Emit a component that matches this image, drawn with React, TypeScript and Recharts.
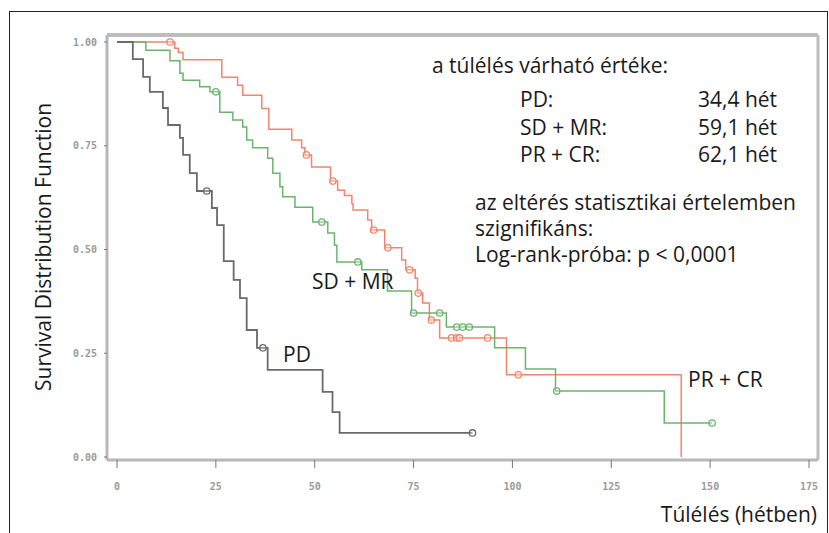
import React from 'react';
import { LineChart, Line, XAxis, YAxis, ReferenceLine } from 'recharts';

// ---- data (weeks, survival, censored flag) ----
const PD_T = [0, 4.0, 6.6, 8.3, 11.6, 12.9, 15.9, 16.7, 18.4, 20.2, 22.7, 24.0, 25.3, 27.0, 29.5, 31.1, 32.8, 35.4, 36.9, 38.1, 52.0, 54.5, 56.3, 89.9];
const PD_S = [1, 0.959, 0.916, 0.88, 0.841, 0.8, 0.769, 0.728, 0.684, 0.641, 0.641, 0.6, 0.559, 0.472, 0.427, 0.383, 0.306, 0.263, 0.263, 0.21, 0.157, 0.108, 0.058, 0.058];
const PD_C = [0, 0, 0, 0, 0, 0, 0, 0, 0, 0, 1, 0, 0, 0, 0, 0, 0, 0, 1, 0, 0, 0, 0, 1];

const SD_T = [0, 7.3, 13.4, 15.9, 16.7, 20.9, 23.5, 25.0, 26.0, 29.3, 31.8, 32.8, 34.3, 38.1, 39.4, 41.2, 41.9, 45.0, 49.5, 51.8, 53.3, 55.0, 55.6, 60.9, 61.9, 68.4, 74.5, 75.0, 81.6, 83.3, 85.9, 87.4, 89.1, 95.5, 103.3, 110.9, 111.2, 138.4, 150.5];
const SD_S = [1, 0.98, 0.955, 0.925, 0.908, 0.892, 0.88, 0.88, 0.831, 0.812, 0.795, 0.764, 0.745, 0.72, 0.684, 0.651, 0.627, 0.602, 0.566, 0.566, 0.54, 0.51, 0.47, 0.47, 0.451, 0.4, 0.347, 0.347, 0.347, 0.313, 0.313, 0.313, 0.313, 0.263, 0.212, 0.159, 0.159, 0.082, 0.082];
const SD_C = [0, 0, 0, 0, 0, 0, 0, 1, 0, 0, 0, 0, 0, 0, 0, 0, 0, 0, 0, 1, 0, 0, 0, 1, 0, 0, 0, 1, 1, 0, 1, 1, 1, 0, 0, 0, 1, 0, 1];

const PR_T = [0, 13.4, 14.6, 15.5, 16.7, 26.5, 30.5, 31.8, 36.6, 38.4, 44.2, 46.7, 47.5, 47.9, 49.2, 54.0, 54.6, 55.8, 57.5, 59.4, 59.7, 63.4, 64.4, 64.9, 67.7, 68.5, 72.0, 73.0, 74.0, 75.4, 76.0, 76.2, 77.3, 79.0, 79.5, 81.6, 84.6, 85.9, 86.6, 93.7, 98.5, 101.5, 142.7];
const PR_S = [1, 1, 0.985, 0.975, 0.957, 0.915, 0.896, 0.872, 0.84, 0.79, 0.764, 0.745, 0.728, 0.728, 0.699, 0.665, 0.665, 0.643, 0.63, 0.61, 0.595, 0.571, 0.547, 0.547, 0.504, 0.504, 0.475, 0.451, 0.451, 0.431, 0.395, 0.395, 0.371, 0.33, 0.33, 0.287, 0.287, 0.287, 0.287, 0.287, 0.198, 0.198, 0];
const PR_C = [0, 1, 0, 0, 0, 0, 0, 0, 0, 0, 0, 0, 0, 1, 0, 0, 1, 0, 0, 0, 0, 0, 0, 1, 0, 1, 0, 0, 1, 0, 0, 1, 0, 0, 1, 0, 1, 1, 1, 1, 0, 1, 0];

const X_TICKS = [0, 25, 50, 75, 100, 125, 150, 175];
const Y_TICKS = [0, 0.25, 0.5, 0.75, 1];
const X_DOMAIN: [number, number] = [-2.53, 177.28];
const Y_DOMAIN: [number, number] = [-0.0072, 1.0169];

const SUMMARY_TITLE = 'a túlélés várható értéke:';
const SUMMARY_ROWS = [
  ['PD:', '34,4 hét'],
  ['SD + MR:', '59,1 hét'],
  ['PR + CR:', '62,1 hét'],
];
const SIG_LINES = ['az eltérés statisztikai értelemben', 'szignifikáns:', 'Log-rank-próba: p < 0,0001'];

const build = (t: number[], s: number[], c: number[]) => t.map((v, i) => ({ t: v, s: s[i], c: c[i] }));
const pdData = build(PD_T, PD_S, PD_C);
const sdData = build(SD_T, SD_S, SD_C);
const prData = build(PR_T, PR_S, PR_C);

const COL_PD = '#6a6a6a';
const COL_SD = '#6cb46c';
const COL_PR = '#f0866c';

const censorDot = (color: string) => (props: any) => {
  const { cx, cy, payload, index } = props;
  if (!payload || !payload.c) return <g key={`n-${index}`} />;
  return <circle key={`c-${index}`} cx={cx} cy={cy} r={3.2} fill="rgba(255,255,255,0.3)" stroke={color} strokeWidth={1.3} />;
};

const FONT = '"Open Sans", "Noto Sans", sans-serif';
const TICK_STYLE = { fontSize: 10, fill: '#9a9a9a', fontFamily: '"DejaVu Sans Mono", monospace', fontWeight: 700 };

export default function App() {
  return (
    <div style={{ position: 'absolute', left: 0, top: 0, width: 829, height: 533, overflow: 'hidden', background: '#fff' }}>
      <div style={{ position: 'absolute', left: 9, top: 11, width: 819, height: 560, border: '1.5px solid #222', boxSizing: 'border-box' }} />
      <div style={{ position: 'absolute', left: 0, top: 0 }}>
        <LineChart width={829} height={533} margin={{ top: 35, right: 11, bottom: 0, left: 0 }}>
          <XAxis
            type="number"
            dataKey="t"
            domain={X_DOMAIN}
            ticks={X_TICKS}
            interval={0}
            allowDataOverflow
            height={73}
            axisLine={{ stroke: '#b8b8b8', strokeWidth: 3 }}
            tickLine={{ stroke: '#777', strokeWidth: 1 }}
            tickSize={8}
            tickMargin={15}
            tick={TICK_STYLE}
          />
          <YAxis
            type="number"
            domain={Y_DOMAIN}
            ticks={Y_TICKS}
            interval={0}
            allowDataOverflow
            width={107}
            axisLine={{ stroke: '#b8b8b8', strokeWidth: 3 }}
            tickLine={{ stroke: '#777', strokeWidth: 1 }}
            tickSize={3}
            tickMargin={7}
            tick={TICK_STYLE}
            tickFormatter={(v: number) => v.toFixed(2)}
          />
          <ReferenceLine y={Y_DOMAIN[1]} stroke="#bdbdbd" strokeWidth={4} />
          <ReferenceLine x={X_DOMAIN[1]} stroke="#bdbdbd" strokeWidth={3} />
          <Line data={prData} dataKey="s" type="stepAfter" stroke={COL_PR} strokeWidth={1.5} dot={censorDot(COL_PR)} activeDot={false} isAnimationActive={false} />
          <Line data={sdData} dataKey="s" type="stepAfter" stroke={COL_SD} strokeWidth={1.5} dot={censorDot(COL_SD)} activeDot={false} isAnimationActive={false} />
          <Line data={pdData} dataKey="s" type="stepAfter" stroke={COL_PD} strokeWidth={1.8} dot={censorDot(COL_PD)} activeDot={false} isAnimationActive={false} />
        </LineChart>
      </div>
      <svg width={829} height={533} style={{ position: 'absolute', left: 0, top: 0, pointerEvents: 'none' }}>
        <g fontFamily={FONT} fontSize={21} fill="#1a1a1a">
          <text x={432} y={73}>{SUMMARY_TITLE}</text>
          {SUMMARY_ROWS.map((r, i) => (
            <g key={r[0]}>
              <text x={520} y={107 + i * 27.5}>{r[0]}</text>
              <text x={698} y={107 + i * 27.5}>{r[1]}</text>
            </g>
          ))}
          {SIG_LINES.map((l, i) => (
            <text key={l} x={475} y={210 + i * 26}>{l}</text>
          ))}
          <text x={312} y={289}>SD + MR</text>
          <text x={283} y={362}>PD</text>
          <text x={688} y={387}>PR + CR</text>
          <text x={817} y={522} textAnchor="end">Túlélés (hétben)</text>
          <text transform="translate(51,247) rotate(-90)" textAnchor="middle">Survival Distribution Function</text>
        </g>
      </svg>
    </div>
  );
}
